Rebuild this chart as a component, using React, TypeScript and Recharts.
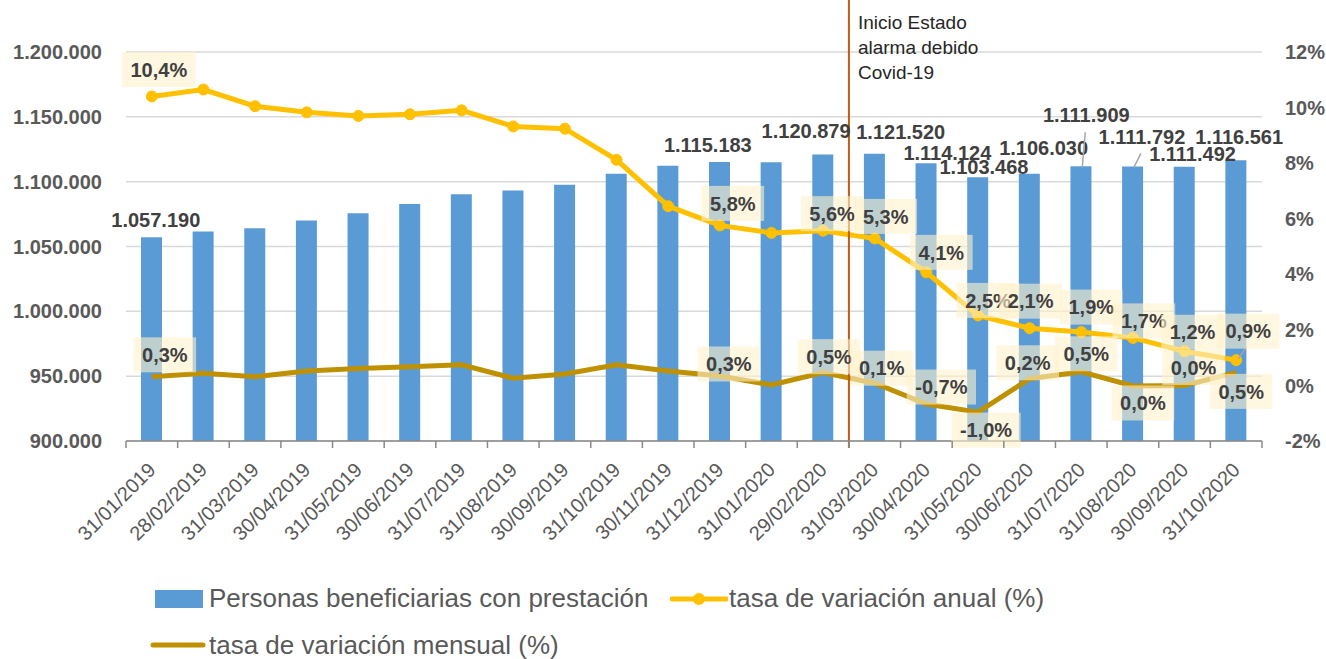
import React from "react";
import { ComposedChart, Bar, Line, XAxis, YAxis, CartesianGrid, ReferenceLine } from "recharts";

const dates = [
  "31/01/2019", "28/02/2019", "31/03/2019", "30/04/2019", "31/05/2019", "30/06/2019",
  "31/07/2019", "31/08/2019", "30/09/2019", "31/10/2019", "30/11/2019", "31/12/2019",
  "31/01/2020", "29/02/2020", "31/03/2020", "30/04/2020", "31/05/2020", "30/06/2020",
  "31/07/2020", "31/08/2020", "30/09/2020", "31/10/2020",
];

const personas = [
  1057190, 1061500, 1064100, 1070000, 1075600, 1082800, 1090200, 1093100, 1097700, 1106200, 1112300,
  1115183, 1114900, 1120879, 1121520, 1114124, 1103468, 1106030, 1111909, 1111792, 1111492, 1116561,
];

const tasaAnual = [
  10.4, 10.65, 10.05, 9.83, 9.7, 9.76, 9.9, 9.32, 9.24, 8.12, 6.45,
  5.76, 5.49, 5.57, 5.29, 4.07, 2.52, 2.06, 1.92, 1.71, 1.23, 0.91,
];

const tasaMensual = [
  0.31, 0.44, 0.31, 0.52, 0.61, 0.67, 0.74, 0.26, 0.41, 0.74, 0.52,
  0.34, 0.02, 0.46, 0.08, -0.67, -0.96, 0.24, 0.49, -0.02, 0.0, 0.47,
];

const leftTicks = [900000, 950000, 1000000, 1050000, 1100000, 1150000, 1200000];
const rightTicks = [-2, 0, 2, 4, 6, 8, 10, 12];

const data = dates.map((date, i) => ({
  date,
  personas: personas[i],
  anual: tasaAnual[i],
  mensual: tasaMensual[i],
}));

const GREY = "#595959";
const LABEL = "#404040";
const FONT = '"Liberation Sans", Arial, sans-serif';

const fmtMiles = (v: number) => String(Math.round(v)).replace(/\B(?=(\d{3})+(?!\d))/g, ".");
const fmtPct = (v: number) => (Math.abs(v) < 0.05 ? "0,0" : v.toFixed(1).replace(".", ",")) + "%";

// rough Arial bold widths at 20px, for label boxes
const textWidth = (s: string) =>
  s.split("").reduce((w, c) => w + (c === "," || c === "." ? 5.6 : c === "%" ? 17.8 : c === "-" ? 6.7 : 11.1), 0);

// label placement relative to point / bar top: [dx, dy, leader line]
const barLabelPos: Record<number, [number, number, boolean?]> = {
  0: [4, -17], 11: [-12, -17], 13: [-17, -24], 14: [26, -22], 15: [21, -11], 16: [6, -10],
  17: [14, -26], 18: [5, -51, true], 19: [9, -30, true], 20: [8, -13], 21: [3, -23],
};
const anualLabelPos: Record<number, [number, number, boolean?]> = {
  0: [7, -27], 11: [13, -22], 13: [9, -17], 14: [11, -22], 15: [15, -20], 16: [10, -15],
  17: [1, -27], 18: [10, -25], 19: [11, -17], 20: [8, -19], 21: [12, -29, true],
};
const mensualLabelPos: Record<number, [number, number, boolean?]> = {
  0: [13, -22], 11: [9, -12], 13: [6, -16], 14: [7, -15], 15: [15, -17], 16: [8, 18],
  17: [-2, -16], 18: [5, -18], 19: [10, 17], 20: [9, -18], 21: [5, 19],
};

const boxLabel = (pos: Record<number, [number, number, boolean?]>, key: string) => (props: any) => {
  const { cx, cy, index, payload } = props;
  const p = pos[index];
  if (!p || cx == null || cy == null) return <g key={`${key}-${index}`} />;
  const text = fmtPct(payload[key]);
  const w = textWidth(text) + 17;
  const lx = cx + p[0];
  const ly = cy + p[1];
  return (
    <g key={`${key}-${index}`}>
      {p[2] && <line x1={cx + 2} y1={cy - 1} x2={lx - 2} y2={ly + 16} stroke="#A6A6A6" strokeWidth={1.5} />}
      <rect x={lx - w / 2} y={ly - 17.5} width={w} height={35} fill="#FFF2CC" fillOpacity={0.6} />
      <text x={lx} y={ly} dy="0.36em" textAnchor="middle" fontSize={20} fontWeight="bold" fill={LABEL} fontFamily={FONT}>
        {text}
      </text>
    </g>
  );
};

const barLabel = (props: any) => {
  const { cx, cy, index, payload } = props;
  const p = barLabelPos[index];
  if (!p || cx == null || cy == null) return <g key={`b-${index}`} />;
  const lx = cx + p[0];
  const ly = cy + p[1];
  return (
    <g key={`b-${index}`}>
      {p[2] && <line x1={lx - 1} y1={ly + 17} x2={cx + 1} y2={cy + 1} stroke="#A6A6A6" strokeWidth={1.5} />}
      <text x={lx} y={ly} dy="0.36em" textAnchor="middle" fontSize={20} fontWeight="bold" fill={LABEL} fontFamily={FONT}>
        {fmtMiles(payload.personas)}
      </text>
    </g>
  );
};

const XTick = (props: any) => {
  const { x, y, payload } = props;
  const index = props.index ?? payload.index;
  const half = payload.offset ?? 1136 / dates.length / 2;
  const tx = x + 5;
  const ty = y + 30;
  return (
    <g>
      <line x1={x - half} y1={y} x2={x - half} y2={y + 7} stroke="#898989" strokeWidth={1.5} />
      {index === dates.length - 1 && (
        <line x1={x + half} y1={y} x2={x + half} y2={y + 7} stroke="#898989" strokeWidth={1.5} />
      )}
      <text x={tx} y={ty} textAnchor="end" fontSize={20} fill={GREY} fontFamily={FONT} transform={`rotate(-45, ${tx}, ${ty})`}>
        {payload.value}
      </text>
    </g>
  );
};

const CovidLine = (props: any) => {
  const { x1, y1, y2 } = props;
  const top = Math.min(y1, y2);
  const bottom = Math.max(y1, y2);
  return (
    <g>
      <line x1={x1} y1={top - 55} x2={x1} y2={bottom + 7} stroke="#C55A11" strokeWidth={2} />
      <text x={x1 + 9} fontSize={19} fill="#262626" fontFamily={FONT}>
        <tspan x={x1 + 9} y={top - 23}>Inicio Estado</tspan>
        <tspan x={x1 + 9} y={top + 2}>alarma debido</tspan>
        <tspan x={x1 + 9} y={top + 27}>Covid-19</tspan>
      </text>
    </g>
  );
};

const legendText: React.CSSProperties = {
  position: "absolute",
  fontSize: 26,
  lineHeight: "30px",
  color: GREY,
  fontFamily: FONT,
  whiteSpace: "nowrap",
};

export default function App() {
  return (
    <div style={{ position: "absolute", left: 0, top: 0, width: 1326, height: 659, background: "#fff", overflow: "hidden" }}>
      <ComposedChart width={1326} height={659} data={data} margin={{ top: 52, right: 0, left: 0, bottom: 88 }}>
        <CartesianGrid yAxisId="left" vertical={false} stroke="#D9D9D9" strokeWidth={1.5} />
        <XAxis
          dataKey="date"
          height={130}
          interval={0}
          tickLine={false}
          tickSize={0}
          tickMargin={0}
          axisLine={{ stroke: "#898989", strokeWidth: 1.5 }}
          tick={<XTick />}
        />
        <YAxis
          yAxisId="left"
          width={126}
          domain={[900000, 1200000]}
          ticks={leftTicks}
          tickFormatter={fmtMiles}
          axisLine={false}
          tickLine={false}
          tickSize={0}
          tickMargin={24}
          tick={{ fill: GREY, fontSize: 20, fontWeight: "bold", fontFamily: FONT }}
        />
        <YAxis
          yAxisId="right"
          orientation="right"
          width={64}
          domain={[-2, 12]}
          ticks={rightTicks}
          tickFormatter={(v: number) => `${v}%`}
          axisLine={false}
          tickLine={false}
          tickSize={0}
          tickMargin={23}
          tick={{ fill: GREY, fontSize: 20, fontWeight: "bold", fontFamily: FONT }}
        />
        <Bar yAxisId="left" dataKey="personas" fill="#5B9BD5" barSize={21} isAnimationActive={false} />
        <Line
          yAxisId="right"
          dataKey="mensual"
          stroke="#BF9000"
          strokeWidth={5}
          dot={false}
          activeDot={false}
          isAnimationActive={false}
        />
        <Line
          yAxisId="right"
          dataKey="anual"
          stroke="#FFC000"
          strokeWidth={5}
          dot={{ r: 5.5, fill: "#FFC000", stroke: "#FFC000", strokeWidth: 1 }}
          activeDot={false}
          isAnimationActive={false}
        />
        <ReferenceLine yAxisId="left" x="31/03/2020" position="start" ifOverflow="visible" shape={<CovidLine />} />
        <Line yAxisId="left" dataKey="personas" stroke="none" dot={barLabel} activeDot={false} legendType="none" isAnimationActive={false} />
        <Line yAxisId="right" dataKey="mensual" stroke="none" dot={boxLabel(mensualLabelPos, "mensual")} activeDot={false} legendType="none" isAnimationActive={false} />
        <Line yAxisId="right" dataKey="anual" stroke="none" dot={boxLabel(anualLabelPos, "anual")} activeDot={false} legendType="none" isAnimationActive={false} />
      </ComposedChart>

      <div style={{ position: "absolute", left: 155, top: 590, width: 48, height: 18, background: "#5B9BD5" }} />
      <div style={{ ...legendText, left: 209, top: 583 }}>Personas beneficiarias con prestación</div>
      <svg style={{ position: "absolute", left: 670, top: 588 }} width={58} height={22}>
        <line x1={2} y1={11} x2={56} y2={11} stroke="#FFC000" strokeWidth={5} strokeLinecap="round" />
        <circle cx={29} cy={11} r={6} fill="#FFC000" />
      </svg>
      <div style={{ ...legendText, left: 729, top: 583 }}>tasa de variación anual (%)</div>
      <svg style={{ position: "absolute", left: 150, top: 634 }} width={58} height={22}>
        <line x1={3} y1={11} x2={53} y2={11} stroke="#BF9000" strokeWidth={5} strokeLinecap="round" />
      </svg>
      <div style={{ ...legendText, left: 209, top: 630 }}>tasa de variación mensual (%)</div>
    </div>
  );
}
